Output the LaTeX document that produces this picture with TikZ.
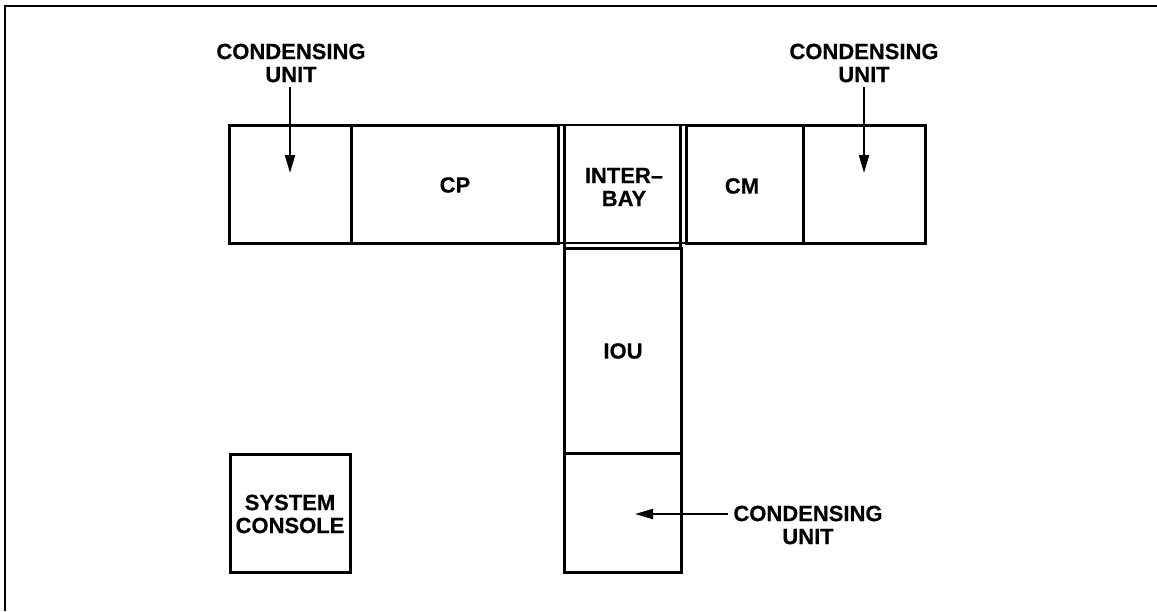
\documentclass[tikz,border=0pt]{standalone}
\usepackage{fontspec}
\setmainfont{Liberation Sans}[BoldFeatures={FakeBold=0.4}]
\usetikzlibrary{arrows.meta}
\begin{document}
\begin{tikzpicture}[x=1pt,y=-1pt,
  box/.style={draw=black,line width=3pt,inner sep=0pt,minimum width=#1},
  dbl/.style={draw=black,line width=2.2pt,inner sep=0pt},
  lbl/.style={font=\fontsize{22}{23}\selectfont\bfseries,align=center,inner sep=0pt,text=black},
  arr/.style={draw=black,line width=2.2pt,-{Triangle[length=18pt,width=10pt]}},
  frame/.style={draw=black,line width=2pt}]
\useasboundingbox (0,0) rectangle (1157,611);
% frame
\coordinate (f0) at (1157,6);
\coordinate (f1) at (5,6);
\coordinate (f2) at (5,611);
\draw[frame] (f0) -- (f1) -- (f2);
% top row
\node[box=122pt,minimum height=118pt] (cu1) at (290,184) {};
\node[box=207pt,minimum height=118pt] (cp) at (454.5,184) {};
\node[box=117pt,minimum height=118pt] (cm) at (744.5,184) {};
\node[box=122pt,minimum height=118pt] (cu2) at (864,184) {};
\node[dbl,minimum width=128pt,minimum height=118pt] (ibo) at (622,184) {};
\node[dbl,minimum width=116pt,minimum height=123pt] (ibi) at (622.5,186.5) {};
% column
\node[box=117pt,minimum height=205pt] (iou) at (622.5,350.5) {};
\node[box=117pt,minimum height=119pt] (cu3) at (622.5,512.5) {};
% console
\node[box=120pt,minimum height=118pt] (sc) at (290,513) {};
% texts
\node[lbl] (tcp) at (455,185) {CP};
\node[lbl] (tib) at (624,187) {INTER–\\BAY};
\node[lbl] (tcm) at (742,186) {CM};
\node[lbl] (tiou) at (623,351) {IOU};
\node[lbl] (tsc) at (290,514) {SYSTEM\\CONSOLE};
\node[lbl] (l1) at (291,63) {CONDENSING\\UNIT};
\node[lbl] (l2) at (864,63) {CONDENSING\\UNIT};
\node[lbl] (l3) at (808,525) {CONDENSING\\UNIT};
% arrows
\coordinate (a1) at (290,173);
\coordinate (a2) at (864,173);
\coordinate (a3) at (635,514);
\draw[arr,shorten <=5pt] (l1.south -| a1) -- (a1);
\draw[arr,shorten <=5pt] (l2.south -| a2) -- (a2);
\draw[arr,shorten <=5pt] (l3.west |- a3) -- (a3);
\end{tikzpicture}
\end{document}
